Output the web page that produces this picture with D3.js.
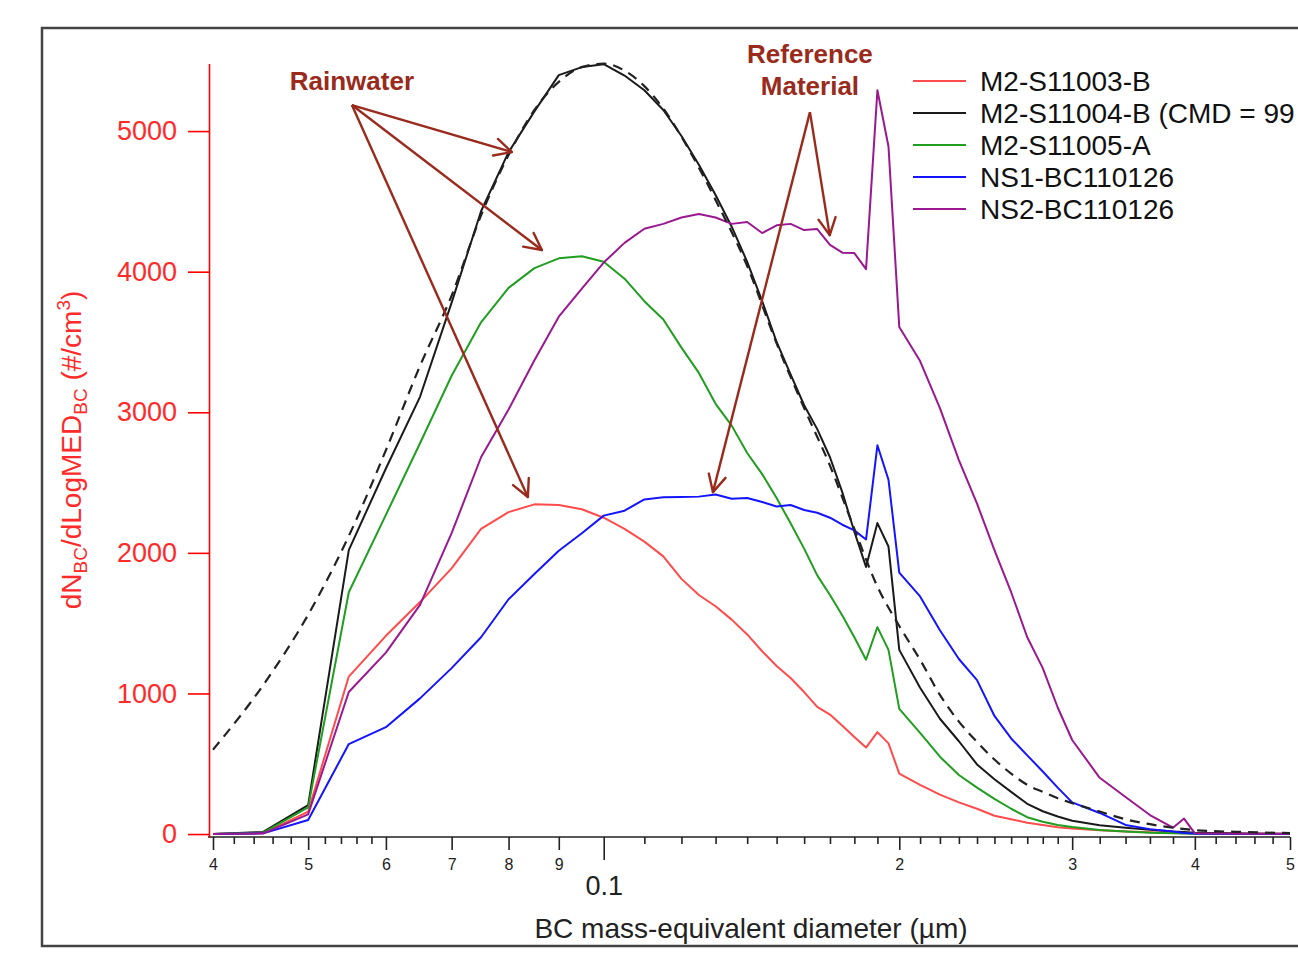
<!DOCTYPE html>
<html><head><meta charset="utf-8">
<script src="https://cdn.jsdelivr.net/npm/d3@7"></script>
<style>
body{margin:0;background:#fff}
svg{display:block}
text{font-family:"Liberation Sans",Arial,Helvetica,sans-serif}
</style>
</head><body>
<svg id="c" width="1298" height="953"></svg>
<script>
// ---------- data ----------
const diameters = [0.040,0.045,0.050,0.055,0.060,0.065,0.070,0.075,0.080,0.085,0.090,0.095,0.100,
  0.105,0.110,0.115,0.120,0.125,0.130,0.135,0.140,0.145,0.150,
  0.155,0.160,0.165,0.170,0.175,0.180,0.185,0.190,0.195,0.200,
  0.21,0.22,0.23,0.24,0.25,0.26,0.27,0.28,0.29,0.30,
  0.32,0.34,0.36,0.38,0.39,0.40,0.45,0.50];

const m2s11003b = [0,5,160,1120,1410,1650,1890,2170,2290,2345,2340,2310,2250,
  2170,2080,1975,1815,1700,1620,1525,1420,1300,1195,
  1110,1010,905,850,770,690,615,725,645,430,
  350,280,225,180,130,105,80,65,48,40,
  27,18,12,7,6,5,2,1];

const m2s11004b = [0,15,206,2020,2600,3110,3780,4430,4850,5140,5398,5455,5476,
  5395,5290,5150,4965,4760,4545,4320,4070,3790,3500,
  3270,3050,2880,2680,2430,2150,1900,2212,2045,1310,
  1040,820,660,495,390,300,215,162,125,95,
  62,45,30,18,14,10,4,2];

const m2s11005a = [0,10,190,1720,2270,2780,3260,3640,3885,4025,4095,4110,4070,
  3950,3790,3660,3460,3280,3060,2905,2710,2560,2390,
  2210,2030,1840,1700,1555,1400,1240,1472,1310,890,
  720,550,420,330,250,180,120,88,65,50,
  28,18,10,5,4,3,1,0];

const ns1bc110126 = [0,5,100,640,760,965,1180,1400,1670,1850,2015,2140,2265,
  2300,2380,2395,2397,2400,2415,2385,2390,2362,2330,
  2340,2305,2285,2250,2200,2160,2095,2765,2520,1860,
  1690,1450,1245,1095,840,680,560,445,330,225,
  150,65,35,18,8,3,1,0];

const ns2bc110126 = [0,5,140,1010,1290,1630,2140,2680,3020,3370,3680,3880,4065,
  4205,4305,4340,4385,4410,4385,4340,4353,4275,4330,
  4340,4296,4303,4190,4135,4132,4018,5290,4890,3606,
  3364,3030,2660,2350,2020,1720,1400,1180,900,669,
  400,263,135,45,110,5,2,2];

// lognormal fit of M2-S11004-B (dashed)
const fitDiameters = [0.040,0.045,0.050,0.055,0.060,0.065,0.070,0.075,0.080,0.085,0.090,0.095,0.100,
  0.105,0.110,0.115,0.120,0.125,0.130,0.140,0.150,0.160,0.170,0.180,0.190,0.200,
  0.21,0.22,0.23,0.24,0.25,0.26,0.27,0.28,0.29,0.30,0.32,0.34,0.36,0.38,0.40,0.45,0.50];
const fitValues = [600,1060,1560,2120,2730,3330,3830,4400,4830,5150,5350,5455,5480,
  5430,5320,5160,4960,4740,4510,4040,3490,3030,2620,2170,1760,1480,
  1240,990,800,655,530,430,350,300,255,220,160,105,70,45,28,14,7];

const seriesNames = ["M2-S11003-B","M2-S11004-B (CMD = 99","M2-S11005-A","NS1-BC110126","NS2-BC110126"];
const seriesValues = [m2s11003b, m2s11004b, m2s11005a, ns1bc110126, ns2bc110126];
const seriesColors = ["#ff4b4b","#1a1a1a","#1f9e1f","#1414ff","#9a1890"];

const yTicks = [0,1000,2000,3000,4000,5000];
const xLabelTicks = [0.04,0.05,0.06,0.07,0.08,0.09,0.2,0.3,0.4,0.5];
const xTickLabels = ["4","5","6","7","8","9","2","3","4","5"];
const xMajorTicks = [0.1];
const xMajorLabels = ["0.1"];
const xMinorTicks = [0.042,0.044,0.046,0.048,0.052,0.054,0.056,0.058,
  0.11,0.12,0.13,0.14,0.15,0.16,0.17,0.18,0.19,
  0.21,0.22,0.23,0.24,0.25,0.26,0.27,0.28,0.29,
  0.32,0.34,0.36,0.38,0.42,0.44,0.46,0.48];

// annotations in data coordinates: [diameter, value]
const rainOrigin = [0.0554, 5185];
const rainTargets = [[0.0806, 4851],[0.0865, 4154],[0.0837, 2397]];
const refOrigin = [0.1622, 5135];
const refTargets = [[0.1292, 2432],[0.1699, 4260]];

// ---------- drawing ----------
const svg = d3.select("#c");
const x = d3.scaleLog().domain([0.04, 0.5]).range([213, 1290]);
const y = d3.scaleLinear().domain([-21, 5480]).range([837, 63.6]);
const FONT = '"Liberation Sans",Arial,Helvetica,sans-serif';
const annColor = "#992a1c";

// outer frame
svg.append("rect").attr("x",42).attr("y",28).attr("width",1300).attr("height",918)
  .attr("fill","none").attr("stroke","#444").attr("stroke-width",2.5);

// x axis
const axisY = 837;
svg.append("line").attr("x1",208).attr("x2",x(0.5)).attr("y1",axisY).attr("y2",axisY)
  .attr("stroke","#222").attr("stroke-width",1.6);

function styleX(g){
  g.select(".domain").remove();
  g.selectAll("line").attr("stroke","#222").attr("stroke-width",1.6);
  g.attr("font-family",FONT);
}
svg.append("g").attr("transform",`translate(0,${axisY})`)
  .call(d3.axisBottom(x).tickValues(xMinorTicks).tickSize(7).tickFormat(""))
  .call(styleX);
svg.append("g").attr("transform",`translate(0,${axisY})`)
  .call(d3.axisBottom(x).tickValues(xLabelTicks).tickSize(13).tickPadding(9)
    .tickFormat((d,i)=>xTickLabels[i]))
  .call(styleX)
  .call(g=>g.selectAll("text").attr("fill","#222").attr("font-size",16));
svg.append("g").attr("transform",`translate(0,${axisY})`)
  .call(d3.axisBottom(x).tickValues(xMajorTicks).tickSize(23).tickPadding(16)
    .tickFormat((d,i)=>xMajorLabels[i]))
  .call(styleX)
  .call(g=>g.selectAll("text").attr("fill","#222").attr("font-size",27));

svg.append("text").attr("x",751).attr("y",938).attr("text-anchor","middle")
  .attr("fill","#222").attr("font-size",28).text("BC mass-equivalent diameter (µm)");

// y axis
const gy = svg.append("g").attr("transform","translate(209,0)")
  .call(d3.axisLeft(y).tickValues(yTicks).tickSize(21).tickSizeOuter(0).tickPadding(11)
    .tickFormat(d3.format("d")));
gy.attr("font-family",FONT);
gy.selectAll("path,line").attr("stroke","#ff0000").attr("stroke-width",1.6);
gy.selectAll("text").attr("fill","#ff2a2a").attr("font-size",27);

const yl = svg.append("text").attr("transform","translate(81,450) rotate(-90)")
  .attr("text-anchor","middle").attr("fill","#ff2a2a").attr("font-size",28);
yl.append("tspan").text("dN");
yl.append("tspan").attr("dy",6).attr("font-size",19).text("BC");
yl.append("tspan").attr("dy",-6).text("/dLogMED");
yl.append("tspan").attr("dy",6).attr("font-size",19).text("BC");
yl.append("tspan").attr("dy",-6).text(" (#/cm");
yl.append("tspan").attr("dy",-11).attr("font-size",19).text("3");
yl.append("tspan").attr("dy",11).text(")");

// series lines
const line = d3.line().x(d=>x(d[0])).y(d=>y(d[1]));
seriesValues.forEach((vals,i)=>{
  svg.append("path").datum(diameters.map((d,j)=>[d,vals[j]]))
    .attr("d",line).attr("fill","none").attr("stroke",seriesColors[i])
    .attr("stroke-width",2).attr("stroke-linejoin","round");
});
// fit (dashed)
svg.append("path").datum(fitDiameters.map((d,j)=>[d,fitValues[j]]))
  .attr("d",d3.line().x(d=>x(d[0])).y(d=>y(d[1])).curve(d3.curveMonotoneX))
  .attr("fill","none").attr("stroke","#222").attr("stroke-width",2.2)
  .attr("stroke-dasharray","10,7");

// legend
const lg = svg.append("g").attr("font-family",FONT);
seriesNames.forEach((n,i)=>{
  const ly = 81 + i*32;
  lg.append("line").attr("x1",913).attr("x2",966).attr("y1",ly).attr("y2",ly)
    .attr("stroke",seriesColors[i]).attr("stroke-width",2);
  lg.append("text").attr("x",980).attr("y",ly+10).attr("font-size",28)
    .attr("fill","#111").text(n);
});

// annotations
function arrow(from, to){
  const x0=x(from[0]), y0=y(from[1]), x1=x(to[0]), y1=y(to[1]);
  svg.append("line").attr("x1",x0).attr("y1",y0).attr("x2",x1).attr("y2",y1)
    .attr("stroke",annColor).attr("stroke-width",2.4);
  const ang = Math.atan2(y0-y1, x0-x1), L=19, a=27*Math.PI/180;
  [ang-a, ang+a].forEach(t=>{
    svg.append("line").attr("x1",x1).attr("y1",y1)
      .attr("x2",x1+L*Math.cos(t)).attr("y2",y1+L*Math.sin(t))
      .attr("stroke",annColor).attr("stroke-width",2.4).attr("stroke-linecap","round");
  });
}
rainTargets.forEach(t=>arrow(rainOrigin,t));
refTargets.forEach(t=>arrow(refOrigin,t));

svg.append("text").attr("x",x(0.0554)).attr("y",y(5292)).attr("text-anchor","middle")
  .attr("font-weight","bold").attr("font-size",26).attr("fill",annColor).text("Rainwater");
svg.append("text").attr("x",x(0.1622)).attr("y",y(5484)).attr("text-anchor","middle")
  .attr("font-weight","bold").attr("font-size",26).attr("fill",annColor).text("Reference");
svg.append("text").attr("x",x(0.1622)).attr("y",y(5256)).attr("text-anchor","middle")
  .attr("font-weight","bold").attr("font-size",26).attr("fill",annColor).text("Material");
</script>
</body></html>
